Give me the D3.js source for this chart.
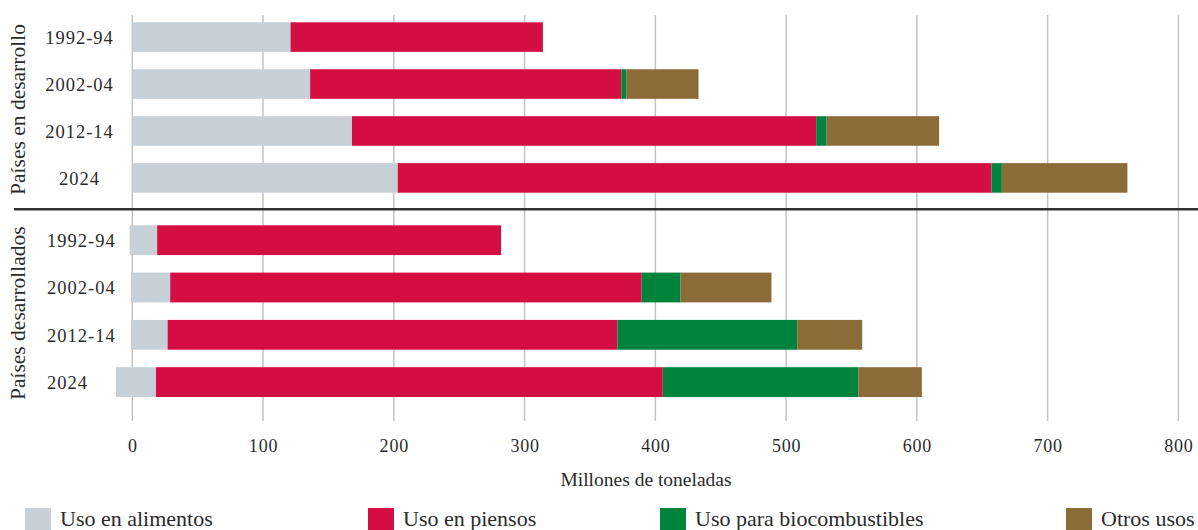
<!DOCTYPE html>
<html>
<head>
<meta charset="utf-8">
<script src="https://cdn.jsdelivr.net/npm/d3@7"></script>
<style>
  html, body { margin: 0; padding: 0; background: #fff; }
  svg { display: block; }
  svg text { font-family: "Liberation Serif", "Times New Roman", "DejaVu Serif", serif; fill: #2b2b2b; }
</style>
</head>
<body>
<svg id="chart" width="1198" height="530"></svg>
<script>
// ---- Data (millones de toneladas) ----
const categories = ["1992-94", "2002-04", "2012-14", "2024"];
const groups = ["Países en desarrollo", "Países desarrollados"];
const seriesNames = ["Uso en alimentos", "Uso en piensos", "Uso para biocombustibles", "Otros usos"];
const seriesColors = ["#c8d0d7", "#d40e43", "#00843d", "#8b6b38"];

// Países en desarrollo
const devStart    = [0, 0, 0, 0];
const devFood     = [121, 136, 168, 203];
const devFeed     = [193, 238, 355, 454];
const devBiofuel  = [0, 4, 8, 8];
const devOther    = [0, 55, 86, 96];

// Países desarrollados
const dedStart    = [-2, -1, -1, -12.5];
const dedFood     = [21, 30, 28, 30.6];
const dedFeed     = [263, 360.5, 344, 387.6];
const dedBiofuel  = [0, 29.8, 137.5, 149.6];
const dedOther    = [0, 69.5, 49.7, 48.5];

const xTicks = [0, 100, 200, 300, 400, 500, 600, 700, 800];

// ---- Layout ----
const svg = d3.select("#chart");
const x = d3.scaleLinear().domain([0, 800]).range([132.3, 1178.4]);

const yDev = d3.scaleBand().domain(categories).range([22.3, 192.7]).paddingInner(0.37).paddingOuter(0);
const yDed = d3.scaleBand().domain(categories).range([225.3, 397]).paddingInner(0.37).paddingOuter(0);

// gridlines
svg.append("g").selectAll("line").data(xTicks).join("line")
  .attr("x1", d => x(d)).attr("x2", d => x(d))
  .attr("y1", 15).attr("y2", 421)
  .attr("stroke", "#c4c4c4").attr("stroke-width", 1.5);

function buildRows(start, food, feed, bio, other) {
  return categories.map((c, i) => {
    const vals = [food[i], feed[i], bio[i], other[i]];
    let acc = start[i];
    return vals.map((v, k) => { const s = { cat: c, k, x0: acc, x1: acc + v }; acc += v; return s; });
  }).flat();
}

const panels = [
  { y: yDev, rows: buildRows(devStart, devFood, devFeed, devBiofuel, devOther), labelAnchor: "middle", labelX: 79.5 },
  { y: yDed, rows: buildRows(dedStart, dedFood, dedFeed, dedBiofuel, dedOther), labelAnchor: "start", labelX: 47 }
];

panels.forEach((p, gi) => {
  const g = svg.append("g");
  g.selectAll("rect").data(p.rows.filter(d => d.x1 > d.x0)).join("rect")
    .attr("x", d => x(d.x0))
    .attr("width", d => x(d.x1) - x(d.x0))
    .attr("y", d => p.y(d.cat))
    .attr("height", p.y.bandwidth())
    .attr("fill", d => seriesColors[d.k]);

  g.selectAll("text.cat").data(categories).join("text")
    .attr("class", "cat")
    .attr("x", p.labelX)
    .attr("y", d => p.y(d) + p.y.bandwidth() / 2 + 7)
    .attr("text-anchor", p.labelAnchor)
    .attr("font-size", 18.5)
    .attr("letter-spacing", 1)
    .text(d => d);

  const r = p.y.range();
  const cy = (r[0] + r[1]) / 2;
  svg.append("text")
    .attr("transform", `translate(25,${cy + 2}) rotate(-90)`)
    .attr("text-anchor", "middle")
    .attr("font-size", 21.5)
    .text(groups[gi]);
});

// separator
svg.append("line")
  .attr("x1", 14).attr("x2", 1198)
  .attr("y1", 209.3).attr("y2", 209.3)
  .attr("stroke", "#333").attr("stroke-width", 2.5);

// x axis labels
const xAxis = d3.axisBottom(x).tickValues(xTicks).tickSize(0).tickPadding(0);
const ax = svg.append("g").attr("transform", "translate(0,452)").call(xAxis);
ax.select(".domain").remove();
ax.selectAll("text").attr("dy", null).attr("y", 0)
  .attr("font-size", 18).attr("letter-spacing", 0.8);

svg.append("text")
  .attr("x", 646).attr("y", 486)
  .attr("text-anchor", "middle")
  .attr("font-size", 19.5)
  .text("Millones de toneladas");

// legend
const legendX = [25, 368, 660, 1066];
const lg = svg.append("g").selectAll("g").data(seriesNames).join("g")
  .attr("transform", (d, i) => `translate(${legendX[i]},508)`);
lg.append("rect").attr("width", 26).attr("height", 26).attr("fill", (d, i) => seriesColors[i]);
lg.append("text").attr("x", 35).attr("y", 18)
  .attr("font-size", 22).text(d => d);
</script>
</body>
</html>
